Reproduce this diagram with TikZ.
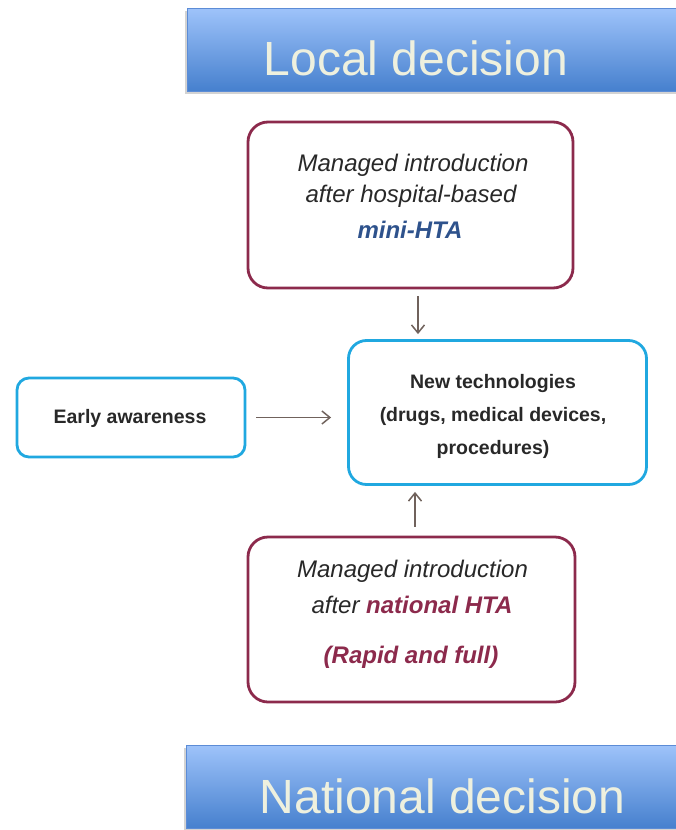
\documentclass[tikz,border=0pt]{standalone}
\usepackage{fontspec}
\setmainfont{Liberation Sans}
\usetikzlibrary{arrows.meta,shadows}
\definecolor{maroon}{RGB}{140,42,76}
\definecolor{minib}{RGB}{46,82,140}
\definecolor{cyanb}{RGB}{32,168,224}
\definecolor{arrc}{RGB}{112,98,92}
\definecolor{bantop}{RGB}{158,195,250}
\definecolor{banbot}{RGB}{70,128,206}
\definecolor{banline}{RGB}{92,140,214}
\definecolor{bantext}{RGB}{238,240,222}
\definecolor{dtext}{RGB}{40,40,40}
\tikzset{
  banner/.style={draw=banline, line width=0.8pt, top color=bantop, bottom color=banbot,
    minimum width=500pt, minimum height=83pt, inner sep=0pt,
    drop shadow={shadow xshift=-2pt, shadow yshift=-3pt, opacity=0.35}},
  bantxt/.style={text=bantext, font=\fontsize{48}{56}\selectfont, inner sep=0pt, anchor=base},
  mbox/.style={draw=maroon, line width=2.8pt, rounded corners=20pt, inner sep=0pt},
  cbox/.style={draw=cyanb, line width=2.8pt, inner sep=0pt},
  itxt/.style={text=dtext, font=\fontsize{24}{30}\selectfont\itshape, inner sep=0pt, anchor=base},
  btxt/.style={text=dtext, font=\fontsize{19.5}{24}\selectfont\bfseries, inner sep=0pt, anchor=base},
  arr/.style={draw=arrc, line width=1.5pt, -{Straight Barb[length=8pt,width=13pt,line width=1.5pt]}}
}
\begin{document}
\begin{tikzpicture}[x=1pt,y=-1pt]
\useasboundingbox (0,0) rectangle (675,830);
% banners
\node[banner] (topban) at (437,49.5) {};
\node[bantxt] (toptxt) at (416,75) {Local decision};
\node[banner] (botban) at (436,786.5) {};
\node[bantxt] (bottxt) at (442.5,813) {National decision};
% top maroon box
\node[mbox, minimum width=325pt, minimum height=166pt] (tb) at (410.5,205) {};
\node[itxt] (tb1) at (413,171) {Managed introduction};
\node[itxt] (tb2) at (411,202) {after hospital-based};
\node[itxt, text=minib, font=\fontsize{24}{30}\selectfont\bfseries\itshape] (tb3) at (410,238) {mini-HTA};
% bottom maroon box
\node[mbox, minimum width=327pt, minimum height=165pt] (bb) at (411.5,619.5) {};
\node[itxt] (bb1) at (412.5,577) {Managed introduction};
\node[itxt] (bb2) at (412,613) {after \textcolor{maroon}{\bfseries national HTA}};
\node[itxt, text=maroon, font=\fontsize{24}{30}\selectfont\bfseries\itshape] (bb3) at (411,663) {(Rapid and full)};
% center box
\node[cbox, rounded corners=18pt, minimum width=298pt, minimum height=144pt] (nt) at (497.5,412.5) {};
\node[btxt] (nt1) at (493,388) {New technologies};
\node[btxt] (nt2) at (493,421) {(drugs, medical devices,};
\node[btxt] (nt3) at (493,454) {procedures)};
% early awareness
\node[cbox, rounded corners=12pt, minimum width=228pt, minimum height=79pt] (ea) at (131,417.5) {};
\node[btxt] (eat) at (130,423) {Early awareness};
% arrows
\coordinate (ax) at (418,0);
\coordinate (bx) at (415,0);
\draw[arr, shorten <=10pt, shorten >=16pt] (ea.east) -- (ea.east -| nt.west);
\draw[arr, shorten <=7pt, shorten >=5pt] (tb.south -| ax) -- (nt.north -| ax);
\draw[arr, shorten <=9pt, shorten >=6pt] (bb.north -| bx) -- (nt.south -| bx);
\end{tikzpicture}
\end{document}
